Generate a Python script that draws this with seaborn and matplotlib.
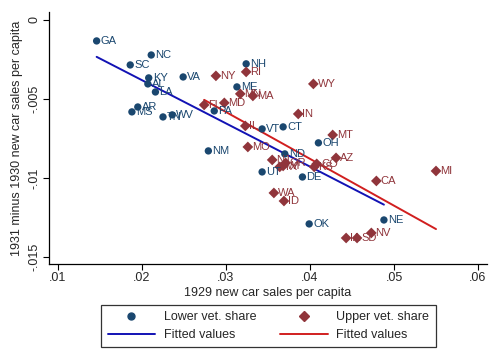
import numpy as np
import pandas as pd
import matplotlib
matplotlib.use("Agg")
import matplotlib.pyplot as plt
import seaborn as sns
from matplotlib.lines import Line2D

# === DATA ===
lower_states = ["GA", "NC", "SC", "KY", "AL", "LA", "AR", "MS", "TN", "WV", "VA", "NH",
                "ME", "PA", "VT", "CT", "NM", "OH", "ND", "UT", "DE", "OK", "NE"]
lower_x = [0.0146, 0.0211, 0.0186, 0.0208, 0.0207, 0.0216, 0.0195, 0.0188, 0.0225, 0.0236,
           0.0249, 0.0324, 0.0313, 0.0286, 0.0343, 0.0368, 0.0279, 0.0410, 0.0370, 0.0343,
           0.0391, 0.0399, 0.0488]
lower_y = [-0.00133, -0.00222, -0.00285, -0.00367, -0.00405, -0.00456, -0.00551, -0.00582,
           -0.00614, -0.00601, -0.00361, -0.00278, -0.00424, -0.00576, -0.00690, -0.00677,
           -0.00829, -0.00778, -0.00848, -0.00962, -0.00994, -0.01291, -0.01266]

upper_states = ["NY", "RI", "MN", "MA", "MD", "FL", "IL", "WY", "IN", "MT", "MO", "AZ",
                "CA", "MI", "WA", "ID", "NV", "IA", "SD", "CO", "KS", "NJ", "TX", "WI", "OR"]
upper_x = [0.0288, 0.0324, 0.0317, 0.0332, 0.0298, 0.0274, 0.0323, 0.0404, 0.0386, 0.0427,
           0.0326, 0.0431, 0.0479, 0.0550, 0.0357, 0.0369, 0.0473, 0.0443, 0.0456, 0.0408,
           0.0405, 0.0355, 0.0364, 0.0368, 0.0371]
upper_y = [-0.00354, -0.00329, -0.00468, -0.00481, -0.00525, -0.00538, -0.00671, -0.00405,
           -0.00595, -0.00728, -0.00804, -0.00873, -0.01019, -0.00956, -0.01095, -0.01146,
           -0.01348, -0.01380, -0.01380, -0.00911, -0.00930, -0.00886, -0.00930, -0.00924,
           -0.00905]

x_ticks = [0.01, 0.02, 0.03, 0.04, 0.05, 0.06]
x_ticklabels = [".01", ".02", ".03", ".04", ".05", ".06"]
y_ticks = [0, -0.005, -0.01, -0.015]
y_ticklabels = ["0", "-.005", "-.01", "-.015"]

lower = pd.DataFrame({"state": lower_states, "x": lower_x, "y": lower_y})
upper = pd.DataFrame({"state": upper_states, "x": upper_x, "y": upper_y})

# === STYLE ===
sns.set_style("white")
plt.rcParams["font.family"] = ["Liberation Sans", "DejaVu Sans"]

NAVY = "#1a476f"
MAROON = "#90353b"
BLUE_LINE = "#1212b4"
RED_LINE = "#d11f1f"

fig = plt.figure(figsize=(5.0, 3.64), dpi=100)
ax = fig.add_axes([0.098, 0.275, 0.876, 0.692])

sns.scatterplot(data=lower, x="x", y="y", ax=ax, color=NAVY, marker="o", s=28,
                edgecolor="none", zorder=3)
sns.scatterplot(data=upper, x="x", y="y", ax=ax, color=MAROON, marker="D", s=30,
                edgecolor="none", zorder=3)

sns.regplot(data=lower, x="x", y="y", ax=ax, scatter=False, ci=None,
            line_kws={"color": BLUE_LINE, "lw": 1.4, "zorder": 2})
sns.regplot(data=upper, x="x", y="y", ax=ax, scatter=False, ci=None,
            line_kws={"color": RED_LINE, "lw": 1.4, "zorder": 2})

# state labels to the right of each marker
for df, col in [(lower, NAVY), (upper, MAROON)]:
    for _, r in df.iterrows():
        ax.annotate(r["state"], (r["x"], r["y"]), xytext=(3, 0), textcoords="offset points",
                    va="center", ha="left", fontsize=8, color=col, zorder=4)

ax.set_xlim(0.00893, 0.06107)
ax.set_ylim(-0.01544, 0.0005)
ax.set_xticks(x_ticks)
ax.set_xticklabels(x_ticklabels, fontsize=9)
ax.set_yticks(y_ticks)
ax.set_yticklabels(y_ticklabels, fontsize=9, rotation=90, va="center")
ax.tick_params(axis="both", direction="out", length=4, width=0.8, color="black", pad=2,
               bottom=True, left=True)
ax.set_xlabel("1929 new car sales per capita", fontsize=9, labelpad=2)
ax.set_ylabel("1931 minus 1930 new car sales per capita", fontsize=9, labelpad=4)
sns.despine(ax=ax)
for s in ["left", "bottom"]:
    ax.spines[s].set_color("black")
    ax.spines[s].set_linewidth(0.9)

handles = [
    Line2D([], [], ls="none", marker="o", color=NAVY, markersize=5),
    Line2D([], [], color=BLUE_LINE, lw=1.4),
    Line2D([], [], ls="none", marker="D", color=MAROON, markersize=5),
    Line2D([], [], color=RED_LINE, lw=1.4),
]
labels = ["Lower vet. share", "Fitted values", "Upper vet. share", "Fitted values"]
leg = fig.legend(handles, labels, ncol=2, loc="center", bbox_to_anchor=(0.537, 0.104),
                 fontsize=9, frameon=True, fancybox=False, edgecolor="black",
                 handlelength=3.8, columnspacing=1.9, borderpad=0.5, labelspacing=0.45,
                 handletextpad=0.7)
leg.get_frame().set_linewidth(0.9)

plt.savefig("out.png", dpi=100)
plt.close()
